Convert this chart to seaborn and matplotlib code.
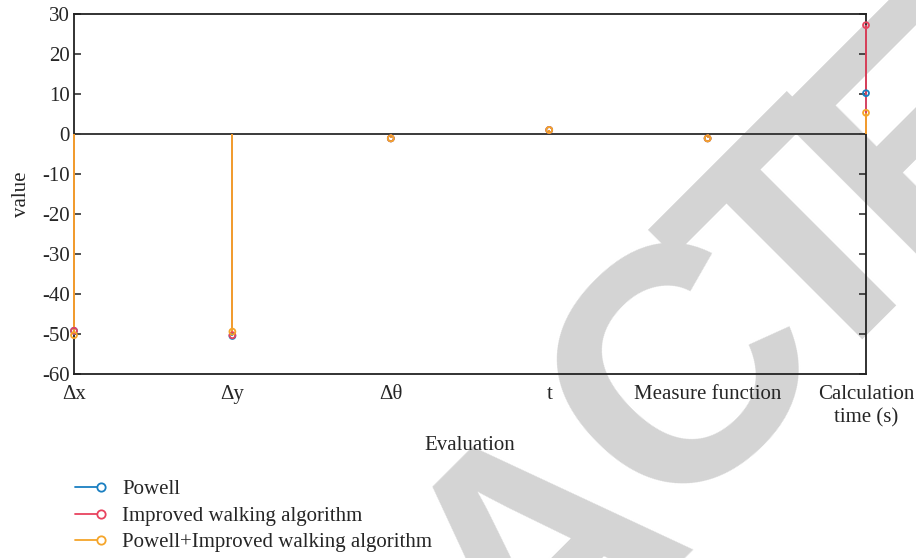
import numpy as np
import pandas as pd
import seaborn as sns
import matplotlib
matplotlib.use("Agg")
import matplotlib.pyplot as plt
from matplotlib.lines import Line2D
from matplotlib.legend_handler import HandlerLine2D

categories = ["\u0394x", "\u0394y", "\u0394\u03b8", "t", "Measure function", "Calculation\ntime (s)"]
series_names = ["Powell", "Improved walking algorithm", "Powell+Improved walking algorithm"]
powell = [-49.2, -50.5, -1.1, 1.0, -1.1, 10.2]
improved = [-49.2, -50.3, -1.1, 1.0, -1.1, 27.2]
combined = [-50.3, -49.4, -1.1, 1.0, -1.1, 5.3]
colors = ["#1a7fc1", "#e8435f", "#f5a52a"]
yticks = [-60, -50, -40, -30, -20, -10, 0, 10, 20, 30]
watermark = "RETRACTED"

sns.set_theme(style="white")
plt.rcParams["font.family"] = ["Liberation Serif", "DejaVu Serif"]

rows = []
for name, vals in zip(series_names, [powell, improved, combined]):
    for i, v in enumerate(vals):
        rows.append({"series": name, "pos": i, "value": v})
df = pd.DataFrame(rows)

W, H = 916, 558
fig = plt.figure(figsize=(W / 100, H / 100), dpi=100)

# watermark, letter by letter along a diagonal (pixel centres of the letters)
wm_size = 240
cap = 0.716 * wm_size * 100 / 72
ux, uy = 0.707, -0.707          # reading direction (pixels, y down)
centres = {4: (528, 538), 5: (667, 355), 6: (794, 236), 7: (910, 112)}
step_units = [0.722, 0.667, 0.611, 0.722, 0.722, 0.722, 0.611, 0.667, 0.722]
em = wm_size * 100 / 72
pos = dict(centres)
for i in range(3, -1, -1):
    d = (step_units[i] + step_units[i + 1]) / 2 * em * 0.93
    px, py = pos[i + 1]
    pos[i] = (px - d * ux, py - d * uy)
for i in range(8, len(watermark)):
    d = (step_units[i] + step_units[i - 1]) / 2 * em * 0.93
    px, py = pos[i - 1]
    pos[i] = (px + d * ux, py + d * uy)
for i, ch in enumerate(watermark):
    cx, cy = pos[i]
    bx, by = cx + cap / 2 * 0.707, cy + cap / 2 * 0.707
    fig.text(bx / W, 1 - by / H, ch, rotation=45, rotation_mode="anchor",
             ha="center", va="baseline", fontsize=wm_size, fontweight="bold",
             family="Liberation Sans", color="#d4d4d4", zorder=-5)

ax = fig.add_axes([74 / W, 1 - 374 / H, (866 - 74) / W, 360 / H])
ax.set_facecolor("none")

for name, c in zip(series_names, colors):
    sub = df[df["series"] == name]
    ax.vlines(sub["pos"], 0, sub["value"], color=c, lw=1.3, zorder=3, clip_on=False)
for name, c in zip(series_names, colors):
    sub = df[df["series"] == name]
    sns.scatterplot(data=sub, x="pos", y="value", ax=ax, marker="o",
                    s=18, facecolor="none", edgecolor=c, linewidth=1.3,
                    zorder=4, legend=False, clip_on=False)

ax.axhline(0, color="#3a3a3a", lw=1.4, zorder=1.5)
ax.set_xlim(0, 5)
ax.set_ylim(-60, 30)
ax.set_yticks(yticks)
ax.set_yticklabels([str(v) for v in yticks], fontsize=15)
ax.set_xticks(range(len(categories)))
ax.set_xticklabels(categories, fontsize=15, linespacing=1.3)
ax.tick_params(axis="y", direction="in", length=5, width=1.1, color="#222222",
               left=True, right=True, pad=3)
ax.tick_params(axis="x", length=0, pad=8)
for s in ax.spines.values():
    s.set_color("#222222")
    s.set_linewidth(1.3)
ax.set_xlabel("Evaluation", fontsize=15, labelpad=6)
ax.set_ylabel("value", fontsize=15, labelpad=8)


class EndMarker(HandlerLine2D):
    def create_artists(self, legend, orig_handle, xdescent, ydescent, width,
                       height, fontsize, trans):
        arts = super().create_artists(legend, orig_handle, xdescent, ydescent,
                                      width, height, fontsize, trans)
        for a in arts:
            n = len(a.get_xdata())
            a.set_markevery([n - 1])
        return arts


handles = [Line2D([], [], color=c, lw=1.3, marker="o", markersize=6,
                  markerfacecolor="white", markeredgecolor=c, markeredgewidth=1.3)
           for c in colors]
leg = fig.legend(handles, series_names, loc="upper left",
                 bbox_to_anchor=(60 / W, 0.155), frameon=False, fontsize=15,
                 numpoints=2, handlelength=1.85, handletextpad=0.75,
                 labelspacing=0.33, borderaxespad=0, borderpad=0.4,
                 handler_map={Line2D: EndMarker()})

fig.savefig("out.png", dpi=100)
